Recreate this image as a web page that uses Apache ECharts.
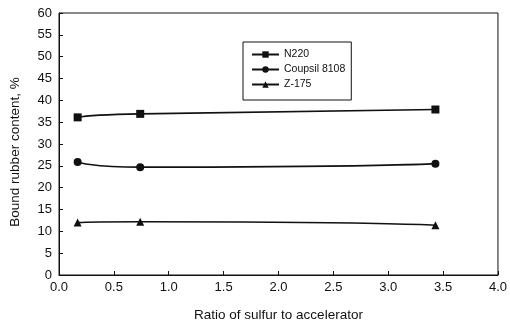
<!DOCTYPE html>
<html>
<head>
<meta charset="utf-8">
<script src="https://cdn.jsdelivr.net/npm/echarts@6/dist/echarts.min.js"></script>
<style>
  html, body { margin: 0; padding: 0; background: #fff; }
  #chart { width: 510px; height: 327px; }
</style>
</head>
<body>
<div id="chart"></div>
<script>
// ratio of sulfur to accelerator (x) and bound rubber content % (y)
const ratios = [0.17, 0.74, 3.43];
const n220 = [36.1, 36.9, 37.9];
const coupsil = [25.9, 24.7, 25.5];
const z175 = [12.0, 12.2, 11.4];

const seriesNames = ["N220", "Coupsil 8108", "Z-175"];
const seriesSymbols = ["rect", "circle", "triangle"];
const seriesValues = [n220, coupsil, z175];

const font = "Liberation Sans, Arial, sans-serif";
const ink = "#111";

const chart = echarts.init(document.getElementById("chart"), null, { renderer: "canvas" });

chart.setOption({
  backgroundColor: "#fff",
  animation: false,
  grid: {
    left: 58,
    right: 10,
    top: 13,
    bottom: 51,
    show: true,
    borderColor: ink,
    borderWidth: 1,
  },
  legend: {
    orient: "vertical",
    left: 243,
    top: 42,
    padding: [7, 6, 10, 8],
    itemGap: 4,
    itemWidth: 27,
    itemHeight: 8,
    borderColor: ink,
    borderWidth: 1,
    textStyle: { color: ink, fontFamily: font, fontSize: 10.5 },
    data: seriesNames,
  },
  xAxis: {
    type: "value",
    min: 0,
    max: 4,
    interval: 0.5,
    name: "Ratio of sulfur to accelerator",
    nameLocation: "middle",
    nameGap: 33,
    nameTextStyle: { color: ink, fontFamily: font, fontSize: 13.5 },
    axisLine: { lineStyle: { color: ink, width: 1 } },
    axisTick: { inside: true, length: 4, lineStyle: { color: ink } },
    axisLabel: {
      color: ink,
      fontFamily: font,
      fontSize: 13,
      margin: 6,
      formatter: (v) => v.toFixed(1),
    },
    splitLine: { show: false },
  },
  yAxis: {
    type: "value",
    min: 0,
    max: 60,
    interval: 5,
    name: "Bound rubber content, %",
    nameLocation: "middle",
    nameGap: 37,
    nameTextStyle: { color: ink, fontFamily: font, fontSize: 13.5, padding: [0, 16, 0, 0] },
    axisLine: { lineStyle: { color: ink, width: 1 } },
    axisTick: { inside: true, length: 4, lineStyle: { color: ink } },
    axisLabel: { color: ink, fontFamily: font, fontSize: 13, margin: 7 },
    splitLine: { show: false },
  },
  series: seriesNames.map((name, i) => ({
    name: name,
    type: "line",
    smooth: 0.8,
    symbol: seriesSymbols[i],
    symbolSize: 8,
    data: ratios.map((x, j) => [x, seriesValues[i][j]]),
    lineStyle: { color: ink, width: 1.6 },
    itemStyle: { color: ink },
  })),
});
</script>
</body>
</html>
